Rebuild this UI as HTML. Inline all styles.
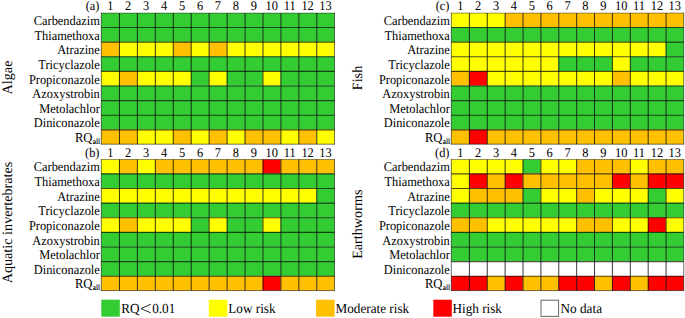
<!DOCTYPE html>
<html><head><meta charset="utf-8"><style>
html,body{margin:0;padding:0;background:#fff;width:685px;height:318px;overflow:hidden}
svg{display:block}
.t{text-rendering:geometricPrecision;font-family:"Liberation Serif",serif;font-size:12.4px;fill:#000}
.leg{font-size:13.2px}
.sub{font-size:7.4px;stroke:#000;stroke-width:0.15px}
.rq{font-size:12.7px}
.side{text-rendering:geometricPrecision;font-family:"Liberation Serif",serif;font-size:14.2px;fill:#000}
line.in{stroke:#000;stroke-width:1;stroke-opacity:0.78}
line.inh{stroke:#000;stroke-width:1.15;stroke-opacity:0.68}
.ob{stroke:#000;stroke-width:1;stroke-opacity:0.55}
.obt{stroke:#000;stroke-width:1;stroke-opacity:0.4}
</style></head><body>
<svg width="685" height="318" viewBox="0 0 685 318">
<rect x="101.30" y="13.00" width="17.94" height="14.22" fill="#33CC33"/>
<rect x="119.24" y="13.00" width="17.94" height="14.22" fill="#33CC33"/>
<rect x="137.18" y="13.00" width="17.94" height="14.22" fill="#33CC33"/>
<rect x="155.12" y="13.00" width="17.94" height="14.22" fill="#33CC33"/>
<rect x="173.06" y="13.00" width="17.94" height="14.22" fill="#33CC33"/>
<rect x="191.00" y="13.00" width="17.94" height="14.22" fill="#33CC33"/>
<rect x="208.94" y="13.00" width="17.94" height="14.22" fill="#33CC33"/>
<rect x="226.88" y="13.00" width="17.94" height="14.22" fill="#33CC33"/>
<rect x="244.82" y="13.00" width="17.94" height="14.22" fill="#33CC33"/>
<rect x="262.76" y="13.00" width="17.94" height="14.22" fill="#33CC33"/>
<rect x="280.70" y="13.00" width="17.94" height="14.22" fill="#33CC33"/>
<rect x="298.64" y="13.00" width="17.94" height="14.22" fill="#33CC33"/>
<rect x="316.58" y="13.00" width="17.94" height="14.22" fill="#33CC33"/>
<rect x="101.30" y="27.22" width="17.94" height="14.62" fill="#33CC33"/>
<rect x="119.24" y="27.22" width="17.94" height="14.62" fill="#33CC33"/>
<rect x="137.18" y="27.22" width="17.94" height="14.62" fill="#33CC33"/>
<rect x="155.12" y="27.22" width="17.94" height="14.62" fill="#33CC33"/>
<rect x="173.06" y="27.22" width="17.94" height="14.62" fill="#33CC33"/>
<rect x="191.00" y="27.22" width="17.94" height="14.62" fill="#33CC33"/>
<rect x="208.94" y="27.22" width="17.94" height="14.62" fill="#33CC33"/>
<rect x="226.88" y="27.22" width="17.94" height="14.62" fill="#33CC33"/>
<rect x="244.82" y="27.22" width="17.94" height="14.62" fill="#33CC33"/>
<rect x="262.76" y="27.22" width="17.94" height="14.62" fill="#33CC33"/>
<rect x="280.70" y="27.22" width="17.94" height="14.62" fill="#33CC33"/>
<rect x="298.64" y="27.22" width="17.94" height="14.62" fill="#33CC33"/>
<rect x="316.58" y="27.22" width="17.94" height="14.62" fill="#33CC33"/>
<rect x="101.30" y="41.84" width="17.94" height="14.62" fill="#FFC000"/>
<rect x="119.24" y="41.84" width="17.94" height="14.62" fill="#FFFF00"/>
<rect x="137.18" y="41.84" width="17.94" height="14.62" fill="#FFFF00"/>
<rect x="155.12" y="41.84" width="17.94" height="14.62" fill="#FFFF00"/>
<rect x="173.06" y="41.84" width="17.94" height="14.62" fill="#FFC000"/>
<rect x="191.00" y="41.84" width="17.94" height="14.62" fill="#FFFF00"/>
<rect x="208.94" y="41.84" width="17.94" height="14.62" fill="#FFC000"/>
<rect x="226.88" y="41.84" width="17.94" height="14.62" fill="#FFFF00"/>
<rect x="244.82" y="41.84" width="17.94" height="14.62" fill="#FFFF00"/>
<rect x="262.76" y="41.84" width="17.94" height="14.62" fill="#FFFF00"/>
<rect x="280.70" y="41.84" width="17.94" height="14.62" fill="#FFFF00"/>
<rect x="298.64" y="41.84" width="17.94" height="14.62" fill="#FFFF00"/>
<rect x="316.58" y="41.84" width="17.94" height="14.62" fill="#FFFF00"/>
<rect x="101.30" y="56.46" width="17.94" height="14.62" fill="#33CC33"/>
<rect x="119.24" y="56.46" width="17.94" height="14.62" fill="#33CC33"/>
<rect x="137.18" y="56.46" width="17.94" height="14.62" fill="#33CC33"/>
<rect x="155.12" y="56.46" width="17.94" height="14.62" fill="#33CC33"/>
<rect x="173.06" y="56.46" width="17.94" height="14.62" fill="#33CC33"/>
<rect x="191.00" y="56.46" width="17.94" height="14.62" fill="#33CC33"/>
<rect x="208.94" y="56.46" width="17.94" height="14.62" fill="#33CC33"/>
<rect x="226.88" y="56.46" width="17.94" height="14.62" fill="#33CC33"/>
<rect x="244.82" y="56.46" width="17.94" height="14.62" fill="#33CC33"/>
<rect x="262.76" y="56.46" width="17.94" height="14.62" fill="#33CC33"/>
<rect x="280.70" y="56.46" width="17.94" height="14.62" fill="#33CC33"/>
<rect x="298.64" y="56.46" width="17.94" height="14.62" fill="#33CC33"/>
<rect x="316.58" y="56.46" width="17.94" height="14.62" fill="#33CC33"/>
<rect x="101.30" y="71.08" width="17.94" height="14.62" fill="#FFFF00"/>
<rect x="119.24" y="71.08" width="17.94" height="14.62" fill="#FFC000"/>
<rect x="137.18" y="71.08" width="17.94" height="14.62" fill="#FFFF00"/>
<rect x="155.12" y="71.08" width="17.94" height="14.62" fill="#FFFF00"/>
<rect x="173.06" y="71.08" width="17.94" height="14.62" fill="#FFFF00"/>
<rect x="191.00" y="71.08" width="17.94" height="14.62" fill="#33CC33"/>
<rect x="208.94" y="71.08" width="17.94" height="14.62" fill="#FFFF00"/>
<rect x="226.88" y="71.08" width="17.94" height="14.62" fill="#33CC33"/>
<rect x="244.82" y="71.08" width="17.94" height="14.62" fill="#33CC33"/>
<rect x="262.76" y="71.08" width="17.94" height="14.62" fill="#FFFF00"/>
<rect x="280.70" y="71.08" width="17.94" height="14.62" fill="#33CC33"/>
<rect x="298.64" y="71.08" width="17.94" height="14.62" fill="#33CC33"/>
<rect x="316.58" y="71.08" width="17.94" height="14.62" fill="#33CC33"/>
<rect x="101.30" y="85.70" width="17.94" height="14.62" fill="#33CC33"/>
<rect x="119.24" y="85.70" width="17.94" height="14.62" fill="#33CC33"/>
<rect x="137.18" y="85.70" width="17.94" height="14.62" fill="#33CC33"/>
<rect x="155.12" y="85.70" width="17.94" height="14.62" fill="#33CC33"/>
<rect x="173.06" y="85.70" width="17.94" height="14.62" fill="#33CC33"/>
<rect x="191.00" y="85.70" width="17.94" height="14.62" fill="#33CC33"/>
<rect x="208.94" y="85.70" width="17.94" height="14.62" fill="#33CC33"/>
<rect x="226.88" y="85.70" width="17.94" height="14.62" fill="#33CC33"/>
<rect x="244.82" y="85.70" width="17.94" height="14.62" fill="#33CC33"/>
<rect x="262.76" y="85.70" width="17.94" height="14.62" fill="#33CC33"/>
<rect x="280.70" y="85.70" width="17.94" height="14.62" fill="#33CC33"/>
<rect x="298.64" y="85.70" width="17.94" height="14.62" fill="#33CC33"/>
<rect x="316.58" y="85.70" width="17.94" height="14.62" fill="#33CC33"/>
<rect x="101.30" y="100.32" width="17.94" height="14.62" fill="#33CC33"/>
<rect x="119.24" y="100.32" width="17.94" height="14.62" fill="#33CC33"/>
<rect x="137.18" y="100.32" width="17.94" height="14.62" fill="#33CC33"/>
<rect x="155.12" y="100.32" width="17.94" height="14.62" fill="#33CC33"/>
<rect x="173.06" y="100.32" width="17.94" height="14.62" fill="#33CC33"/>
<rect x="191.00" y="100.32" width="17.94" height="14.62" fill="#33CC33"/>
<rect x="208.94" y="100.32" width="17.94" height="14.62" fill="#33CC33"/>
<rect x="226.88" y="100.32" width="17.94" height="14.62" fill="#33CC33"/>
<rect x="244.82" y="100.32" width="17.94" height="14.62" fill="#33CC33"/>
<rect x="262.76" y="100.32" width="17.94" height="14.62" fill="#33CC33"/>
<rect x="280.70" y="100.32" width="17.94" height="14.62" fill="#33CC33"/>
<rect x="298.64" y="100.32" width="17.94" height="14.62" fill="#33CC33"/>
<rect x="316.58" y="100.32" width="17.94" height="14.62" fill="#33CC33"/>
<rect x="101.30" y="114.94" width="17.94" height="14.62" fill="#33CC33"/>
<rect x="119.24" y="114.94" width="17.94" height="14.62" fill="#33CC33"/>
<rect x="137.18" y="114.94" width="17.94" height="14.62" fill="#33CC33"/>
<rect x="155.12" y="114.94" width="17.94" height="14.62" fill="#33CC33"/>
<rect x="173.06" y="114.94" width="17.94" height="14.62" fill="#33CC33"/>
<rect x="191.00" y="114.94" width="17.94" height="14.62" fill="#33CC33"/>
<rect x="208.94" y="114.94" width="17.94" height="14.62" fill="#33CC33"/>
<rect x="226.88" y="114.94" width="17.94" height="14.62" fill="#33CC33"/>
<rect x="244.82" y="114.94" width="17.94" height="14.62" fill="#33CC33"/>
<rect x="262.76" y="114.94" width="17.94" height="14.62" fill="#33CC33"/>
<rect x="280.70" y="114.94" width="17.94" height="14.62" fill="#33CC33"/>
<rect x="298.64" y="114.94" width="17.94" height="14.62" fill="#33CC33"/>
<rect x="316.58" y="114.94" width="17.94" height="14.62" fill="#33CC33"/>
<rect x="101.30" y="129.56" width="17.94" height="14.62" fill="#FFC000"/>
<rect x="119.24" y="129.56" width="17.94" height="14.62" fill="#FFC000"/>
<rect x="137.18" y="129.56" width="17.94" height="14.62" fill="#FFFF00"/>
<rect x="155.12" y="129.56" width="17.94" height="14.62" fill="#FFFF00"/>
<rect x="173.06" y="129.56" width="17.94" height="14.62" fill="#FFC000"/>
<rect x="191.00" y="129.56" width="17.94" height="14.62" fill="#FFFF00"/>
<rect x="208.94" y="129.56" width="17.94" height="14.62" fill="#FFC000"/>
<rect x="226.88" y="129.56" width="17.94" height="14.62" fill="#FFFF00"/>
<rect x="244.82" y="129.56" width="17.94" height="14.62" fill="#FFC000"/>
<rect x="262.76" y="129.56" width="17.94" height="14.62" fill="#FFC000"/>
<rect x="280.70" y="129.56" width="17.94" height="14.62" fill="#FFFF00"/>
<rect x="298.64" y="129.56" width="17.94" height="14.62" fill="#FFC000"/>
<rect x="316.58" y="129.56" width="17.94" height="14.62" fill="#FFFF00"/>
<line class="in" x1="119.44" y1="13.00" x2="119.44" y2="144.18"/>
<line class="in" x1="137.38" y1="13.00" x2="137.38" y2="144.18"/>
<line class="in" x1="155.32" y1="13.00" x2="155.32" y2="144.18"/>
<line class="in" x1="173.26" y1="13.00" x2="173.26" y2="144.18"/>
<line class="in" x1="191.20" y1="13.00" x2="191.20" y2="144.18"/>
<line class="in" x1="209.14" y1="13.00" x2="209.14" y2="144.18"/>
<line class="in" x1="227.08" y1="13.00" x2="227.08" y2="144.18"/>
<line class="in" x1="245.02" y1="13.00" x2="245.02" y2="144.18"/>
<line class="in" x1="262.96" y1="13.00" x2="262.96" y2="144.18"/>
<line class="in" x1="280.90" y1="13.00" x2="280.90" y2="144.18"/>
<line class="in" x1="298.84" y1="13.00" x2="298.84" y2="144.18"/>
<line class="in" x1="316.78" y1="13.00" x2="316.78" y2="144.18"/>
<line class="inh" x1="101.30" y1="27.52" x2="334.52" y2="27.52"/>
<line class="inh" x1="101.30" y1="42.14" x2="334.52" y2="42.14"/>
<line class="inh" x1="101.30" y1="56.76" x2="334.52" y2="56.76"/>
<line class="inh" x1="101.30" y1="71.38" x2="334.52" y2="71.38"/>
<line class="inh" x1="101.30" y1="86.00" x2="334.52" y2="86.00"/>
<line class="inh" x1="101.30" y1="100.62" x2="334.52" y2="100.62"/>
<line class="inh" x1="101.30" y1="115.24" x2="334.52" y2="115.24"/>
<line class="inh" x1="101.30" y1="129.86" x2="334.52" y2="129.86"/>
<line class="ob" x1="101.30" y1="12.60" x2="101.30" y2="144.18"/>
<line class="ob" x1="334.52" y1="12.60" x2="334.52" y2="144.68"/>
<line class="ob" x1="100.80" y1="144.18" x2="334.52" y2="144.18"/>
<line class="obt" x1="101.30" y1="13.10" x2="334.52" y2="13.10"/>
<text class="t" transform="translate(110.27,9.70) scale(1,1.07)" text-anchor="middle">1</text>
<text class="t" transform="translate(128.21,9.70) scale(1,1.07)" text-anchor="middle">2</text>
<text class="t" transform="translate(146.15,9.70) scale(1,1.07)" text-anchor="middle">3</text>
<text class="t" transform="translate(164.09,9.70) scale(1,1.07)" text-anchor="middle">4</text>
<text class="t" transform="translate(182.03,9.70) scale(1,1.07)" text-anchor="middle">5</text>
<text class="t" transform="translate(199.97,9.70) scale(1,1.07)" text-anchor="middle">6</text>
<text class="t" transform="translate(217.91,9.70) scale(1,1.07)" text-anchor="middle">7</text>
<text class="t" transform="translate(235.85,9.70) scale(1,1.07)" text-anchor="middle">8</text>
<text class="t" transform="translate(253.79,9.70) scale(1,1.07)" text-anchor="middle">9</text>
<text class="t" transform="translate(271.73,9.70) scale(1,1.07)" text-anchor="middle">10</text>
<text class="t" transform="translate(289.67,9.70) scale(1,1.07)" text-anchor="middle">11</text>
<text class="t" transform="translate(307.61,9.70) scale(1,1.07)" text-anchor="middle">12</text>
<text class="t" transform="translate(325.55,9.70) scale(1,1.07)" text-anchor="middle">13</text>
<text class="t" transform="translate(99.50,9.70) scale(1,1.07)" text-anchor="end">(a)</text>
<text class="t" transform="translate(99.80,25.02) scale(1,1.07)" text-anchor="end">Carbendazim</text>
<text class="t" transform="translate(99.80,39.64) scale(1,1.07)" text-anchor="end">Thiamethoxa</text>
<text class="t" transform="translate(99.80,54.26) scale(1,1.07)" text-anchor="end">Atrazine</text>
<text class="t" transform="translate(99.80,68.88) scale(1,1.07)" text-anchor="end">Tricyclazole</text>
<text class="t" transform="translate(99.80,83.50) scale(1,1.07)" text-anchor="end">Propiconazole</text>
<text class="t" transform="translate(99.80,98.12) scale(1,1.07)" text-anchor="end">Azoxystrobin</text>
<text class="t" transform="translate(99.80,112.74) scale(1,1.07)" text-anchor="end">Metolachlor</text>
<text class="t" transform="translate(99.80,127.36) scale(1,1.07)" text-anchor="end">Diniconazole</text>
<text class="t rq" transform="translate(74.90,141.78) scale(1,1.07)">RQ</text>
<text class="t sub" transform="translate(92.70,144.08) scale(1,1.07)">all</text>
<text class="side" transform="translate(11.60,77.50) rotate(-90)" text-anchor="middle">Algae</text>
<rect x="451.30" y="13.00" width="17.88" height="14.22" fill="#FFFF00"/>
<rect x="469.18" y="13.00" width="17.88" height="14.22" fill="#FFFF00"/>
<rect x="487.06" y="13.00" width="17.88" height="14.22" fill="#FFFF00"/>
<rect x="504.94" y="13.00" width="17.88" height="14.22" fill="#FFC000"/>
<rect x="522.82" y="13.00" width="17.88" height="14.22" fill="#FFC000"/>
<rect x="540.70" y="13.00" width="17.88" height="14.22" fill="#FFC000"/>
<rect x="558.58" y="13.00" width="17.88" height="14.22" fill="#FFC000"/>
<rect x="576.46" y="13.00" width="17.88" height="14.22" fill="#FFC000"/>
<rect x="594.34" y="13.00" width="17.88" height="14.22" fill="#FFC000"/>
<rect x="612.22" y="13.00" width="17.88" height="14.22" fill="#FFC000"/>
<rect x="630.10" y="13.00" width="17.88" height="14.22" fill="#FFC000"/>
<rect x="647.98" y="13.00" width="17.88" height="14.22" fill="#FFC000"/>
<rect x="665.86" y="13.00" width="17.88" height="14.22" fill="#FFC000"/>
<rect x="451.30" y="27.22" width="17.88" height="14.62" fill="#33CC33"/>
<rect x="469.18" y="27.22" width="17.88" height="14.62" fill="#33CC33"/>
<rect x="487.06" y="27.22" width="17.88" height="14.62" fill="#33CC33"/>
<rect x="504.94" y="27.22" width="17.88" height="14.62" fill="#33CC33"/>
<rect x="522.82" y="27.22" width="17.88" height="14.62" fill="#33CC33"/>
<rect x="540.70" y="27.22" width="17.88" height="14.62" fill="#33CC33"/>
<rect x="558.58" y="27.22" width="17.88" height="14.62" fill="#33CC33"/>
<rect x="576.46" y="27.22" width="17.88" height="14.62" fill="#33CC33"/>
<rect x="594.34" y="27.22" width="17.88" height="14.62" fill="#33CC33"/>
<rect x="612.22" y="27.22" width="17.88" height="14.62" fill="#33CC33"/>
<rect x="630.10" y="27.22" width="17.88" height="14.62" fill="#33CC33"/>
<rect x="647.98" y="27.22" width="17.88" height="14.62" fill="#33CC33"/>
<rect x="665.86" y="27.22" width="17.88" height="14.62" fill="#33CC33"/>
<rect x="451.30" y="41.84" width="17.88" height="14.62" fill="#FFFF00"/>
<rect x="469.18" y="41.84" width="17.88" height="14.62" fill="#FFFF00"/>
<rect x="487.06" y="41.84" width="17.88" height="14.62" fill="#FFFF00"/>
<rect x="504.94" y="41.84" width="17.88" height="14.62" fill="#FFFF00"/>
<rect x="522.82" y="41.84" width="17.88" height="14.62" fill="#FFFF00"/>
<rect x="540.70" y="41.84" width="17.88" height="14.62" fill="#FFFF00"/>
<rect x="558.58" y="41.84" width="17.88" height="14.62" fill="#FFFF00"/>
<rect x="576.46" y="41.84" width="17.88" height="14.62" fill="#FFFF00"/>
<rect x="594.34" y="41.84" width="17.88" height="14.62" fill="#FFFF00"/>
<rect x="612.22" y="41.84" width="17.88" height="14.62" fill="#FFFF00"/>
<rect x="630.10" y="41.84" width="17.88" height="14.62" fill="#FFFF00"/>
<rect x="647.98" y="41.84" width="17.88" height="14.62" fill="#FFFF00"/>
<rect x="665.86" y="41.84" width="17.88" height="14.62" fill="#33CC33"/>
<rect x="451.30" y="56.46" width="17.88" height="14.62" fill="#FFFF00"/>
<rect x="469.18" y="56.46" width="17.88" height="14.62" fill="#FFFF00"/>
<rect x="487.06" y="56.46" width="17.88" height="14.62" fill="#FFFF00"/>
<rect x="504.94" y="56.46" width="17.88" height="14.62" fill="#FFFF00"/>
<rect x="522.82" y="56.46" width="17.88" height="14.62" fill="#FFFF00"/>
<rect x="540.70" y="56.46" width="17.88" height="14.62" fill="#FFFF00"/>
<rect x="558.58" y="56.46" width="17.88" height="14.62" fill="#33CC33"/>
<rect x="576.46" y="56.46" width="17.88" height="14.62" fill="#33CC33"/>
<rect x="594.34" y="56.46" width="17.88" height="14.62" fill="#33CC33"/>
<rect x="612.22" y="56.46" width="17.88" height="14.62" fill="#FFFF00"/>
<rect x="630.10" y="56.46" width="17.88" height="14.62" fill="#33CC33"/>
<rect x="647.98" y="56.46" width="17.88" height="14.62" fill="#33CC33"/>
<rect x="665.86" y="56.46" width="17.88" height="14.62" fill="#33CC33"/>
<rect x="451.30" y="71.08" width="17.88" height="14.62" fill="#FFC000"/>
<rect x="469.18" y="71.08" width="17.88" height="14.62" fill="#FF0000"/>
<rect x="487.06" y="71.08" width="17.88" height="14.62" fill="#FFFF00"/>
<rect x="504.94" y="71.08" width="17.88" height="14.62" fill="#FFFF00"/>
<rect x="522.82" y="71.08" width="17.88" height="14.62" fill="#FFFF00"/>
<rect x="540.70" y="71.08" width="17.88" height="14.62" fill="#FFFF00"/>
<rect x="558.58" y="71.08" width="17.88" height="14.62" fill="#FFFF00"/>
<rect x="576.46" y="71.08" width="17.88" height="14.62" fill="#FFFF00"/>
<rect x="594.34" y="71.08" width="17.88" height="14.62" fill="#FFFF00"/>
<rect x="612.22" y="71.08" width="17.88" height="14.62" fill="#FFC000"/>
<rect x="630.10" y="71.08" width="17.88" height="14.62" fill="#FFFF00"/>
<rect x="647.98" y="71.08" width="17.88" height="14.62" fill="#FFFF00"/>
<rect x="665.86" y="71.08" width="17.88" height="14.62" fill="#FFFF00"/>
<rect x="451.30" y="85.70" width="17.88" height="14.62" fill="#33CC33"/>
<rect x="469.18" y="85.70" width="17.88" height="14.62" fill="#33CC33"/>
<rect x="487.06" y="85.70" width="17.88" height="14.62" fill="#33CC33"/>
<rect x="504.94" y="85.70" width="17.88" height="14.62" fill="#33CC33"/>
<rect x="522.82" y="85.70" width="17.88" height="14.62" fill="#33CC33"/>
<rect x="540.70" y="85.70" width="17.88" height="14.62" fill="#33CC33"/>
<rect x="558.58" y="85.70" width="17.88" height="14.62" fill="#33CC33"/>
<rect x="576.46" y="85.70" width="17.88" height="14.62" fill="#33CC33"/>
<rect x="594.34" y="85.70" width="17.88" height="14.62" fill="#33CC33"/>
<rect x="612.22" y="85.70" width="17.88" height="14.62" fill="#33CC33"/>
<rect x="630.10" y="85.70" width="17.88" height="14.62" fill="#33CC33"/>
<rect x="647.98" y="85.70" width="17.88" height="14.62" fill="#33CC33"/>
<rect x="665.86" y="85.70" width="17.88" height="14.62" fill="#33CC33"/>
<rect x="451.30" y="100.32" width="17.88" height="14.62" fill="#33CC33"/>
<rect x="469.18" y="100.32" width="17.88" height="14.62" fill="#33CC33"/>
<rect x="487.06" y="100.32" width="17.88" height="14.62" fill="#33CC33"/>
<rect x="504.94" y="100.32" width="17.88" height="14.62" fill="#33CC33"/>
<rect x="522.82" y="100.32" width="17.88" height="14.62" fill="#33CC33"/>
<rect x="540.70" y="100.32" width="17.88" height="14.62" fill="#33CC33"/>
<rect x="558.58" y="100.32" width="17.88" height="14.62" fill="#33CC33"/>
<rect x="576.46" y="100.32" width="17.88" height="14.62" fill="#33CC33"/>
<rect x="594.34" y="100.32" width="17.88" height="14.62" fill="#33CC33"/>
<rect x="612.22" y="100.32" width="17.88" height="14.62" fill="#33CC33"/>
<rect x="630.10" y="100.32" width="17.88" height="14.62" fill="#33CC33"/>
<rect x="647.98" y="100.32" width="17.88" height="14.62" fill="#33CC33"/>
<rect x="665.86" y="100.32" width="17.88" height="14.62" fill="#33CC33"/>
<rect x="451.30" y="114.94" width="17.88" height="14.62" fill="#33CC33"/>
<rect x="469.18" y="114.94" width="17.88" height="14.62" fill="#33CC33"/>
<rect x="487.06" y="114.94" width="17.88" height="14.62" fill="#33CC33"/>
<rect x="504.94" y="114.94" width="17.88" height="14.62" fill="#33CC33"/>
<rect x="522.82" y="114.94" width="17.88" height="14.62" fill="#33CC33"/>
<rect x="540.70" y="114.94" width="17.88" height="14.62" fill="#33CC33"/>
<rect x="558.58" y="114.94" width="17.88" height="14.62" fill="#33CC33"/>
<rect x="576.46" y="114.94" width="17.88" height="14.62" fill="#33CC33"/>
<rect x="594.34" y="114.94" width="17.88" height="14.62" fill="#33CC33"/>
<rect x="612.22" y="114.94" width="17.88" height="14.62" fill="#33CC33"/>
<rect x="630.10" y="114.94" width="17.88" height="14.62" fill="#33CC33"/>
<rect x="647.98" y="114.94" width="17.88" height="14.62" fill="#33CC33"/>
<rect x="665.86" y="114.94" width="17.88" height="14.62" fill="#33CC33"/>
<rect x="451.30" y="129.56" width="17.88" height="14.62" fill="#FFC000"/>
<rect x="469.18" y="129.56" width="17.88" height="14.62" fill="#FF0000"/>
<rect x="487.06" y="129.56" width="17.88" height="14.62" fill="#FFC000"/>
<rect x="504.94" y="129.56" width="17.88" height="14.62" fill="#FFC000"/>
<rect x="522.82" y="129.56" width="17.88" height="14.62" fill="#FFC000"/>
<rect x="540.70" y="129.56" width="17.88" height="14.62" fill="#FFC000"/>
<rect x="558.58" y="129.56" width="17.88" height="14.62" fill="#FFC000"/>
<rect x="576.46" y="129.56" width="17.88" height="14.62" fill="#FFC000"/>
<rect x="594.34" y="129.56" width="17.88" height="14.62" fill="#FFC000"/>
<rect x="612.22" y="129.56" width="17.88" height="14.62" fill="#FFC000"/>
<rect x="630.10" y="129.56" width="17.88" height="14.62" fill="#FFC000"/>
<rect x="647.98" y="129.56" width="17.88" height="14.62" fill="#FFC000"/>
<rect x="665.86" y="129.56" width="17.88" height="14.62" fill="#FFC000"/>
<line class="in" x1="469.38" y1="13.00" x2="469.38" y2="144.18"/>
<line class="in" x1="487.26" y1="13.00" x2="487.26" y2="144.18"/>
<line class="in" x1="505.14" y1="13.00" x2="505.14" y2="144.18"/>
<line class="in" x1="523.02" y1="13.00" x2="523.02" y2="144.18"/>
<line class="in" x1="540.90" y1="13.00" x2="540.90" y2="144.18"/>
<line class="in" x1="558.78" y1="13.00" x2="558.78" y2="144.18"/>
<line class="in" x1="576.66" y1="13.00" x2="576.66" y2="144.18"/>
<line class="in" x1="594.54" y1="13.00" x2="594.54" y2="144.18"/>
<line class="in" x1="612.42" y1="13.00" x2="612.42" y2="144.18"/>
<line class="in" x1="630.30" y1="13.00" x2="630.30" y2="144.18"/>
<line class="in" x1="648.18" y1="13.00" x2="648.18" y2="144.18"/>
<line class="in" x1="666.06" y1="13.00" x2="666.06" y2="144.18"/>
<line class="inh" x1="451.30" y1="27.52" x2="683.74" y2="27.52"/>
<line class="inh" x1="451.30" y1="42.14" x2="683.74" y2="42.14"/>
<line class="inh" x1="451.30" y1="56.76" x2="683.74" y2="56.76"/>
<line class="inh" x1="451.30" y1="71.38" x2="683.74" y2="71.38"/>
<line class="inh" x1="451.30" y1="86.00" x2="683.74" y2="86.00"/>
<line class="inh" x1="451.30" y1="100.62" x2="683.74" y2="100.62"/>
<line class="inh" x1="451.30" y1="115.24" x2="683.74" y2="115.24"/>
<line class="inh" x1="451.30" y1="129.86" x2="683.74" y2="129.86"/>
<line class="ob" x1="451.30" y1="12.60" x2="451.30" y2="144.18"/>
<line class="ob" x1="683.74" y1="12.60" x2="683.74" y2="144.68"/>
<line class="ob" x1="450.80" y1="144.18" x2="683.74" y2="144.18"/>
<line class="obt" x1="451.30" y1="13.10" x2="683.74" y2="13.10"/>
<text class="t" transform="translate(460.24,9.70) scale(1,1.07)" text-anchor="middle">1</text>
<text class="t" transform="translate(478.12,9.70) scale(1,1.07)" text-anchor="middle">2</text>
<text class="t" transform="translate(496.00,9.70) scale(1,1.07)" text-anchor="middle">3</text>
<text class="t" transform="translate(513.88,9.70) scale(1,1.07)" text-anchor="middle">4</text>
<text class="t" transform="translate(531.76,9.70) scale(1,1.07)" text-anchor="middle">5</text>
<text class="t" transform="translate(549.64,9.70) scale(1,1.07)" text-anchor="middle">6</text>
<text class="t" transform="translate(567.52,9.70) scale(1,1.07)" text-anchor="middle">7</text>
<text class="t" transform="translate(585.40,9.70) scale(1,1.07)" text-anchor="middle">8</text>
<text class="t" transform="translate(603.28,9.70) scale(1,1.07)" text-anchor="middle">9</text>
<text class="t" transform="translate(621.16,9.70) scale(1,1.07)" text-anchor="middle">10</text>
<text class="t" transform="translate(639.04,9.70) scale(1,1.07)" text-anchor="middle">11</text>
<text class="t" transform="translate(656.92,9.70) scale(1,1.07)" text-anchor="middle">12</text>
<text class="t" transform="translate(674.80,9.70) scale(1,1.07)" text-anchor="middle">13</text>
<text class="t" transform="translate(449.50,9.70) scale(1,1.07)" text-anchor="end">(c)</text>
<text class="t" transform="translate(449.80,25.02) scale(1,1.07)" text-anchor="end">Carbendazim</text>
<text class="t" transform="translate(449.80,39.64) scale(1,1.07)" text-anchor="end">Thiamethoxa</text>
<text class="t" transform="translate(449.80,54.26) scale(1,1.07)" text-anchor="end">Atrazine</text>
<text class="t" transform="translate(449.80,68.88) scale(1,1.07)" text-anchor="end">Tricyclazole</text>
<text class="t" transform="translate(449.80,83.50) scale(1,1.07)" text-anchor="end">Propiconazole</text>
<text class="t" transform="translate(449.80,98.12) scale(1,1.07)" text-anchor="end">Azoxystrobin</text>
<text class="t" transform="translate(449.80,112.74) scale(1,1.07)" text-anchor="end">Metolachlor</text>
<text class="t" transform="translate(449.80,127.36) scale(1,1.07)" text-anchor="end">Diniconazole</text>
<text class="t rq" transform="translate(424.90,141.78) scale(1,1.07)">RQ</text>
<text class="t sub" transform="translate(442.70,144.08) scale(1,1.07)">all</text>
<text class="side" transform="translate(361.50,78.00) rotate(-90)" text-anchor="middle">Fish</text>
<rect x="101.30" y="159.40" width="17.94" height="14.22" fill="#FFFF00"/>
<rect x="119.24" y="159.40" width="17.94" height="14.22" fill="#FFC000"/>
<rect x="137.18" y="159.40" width="17.94" height="14.22" fill="#FFFF00"/>
<rect x="155.12" y="159.40" width="17.94" height="14.22" fill="#FFC000"/>
<rect x="173.06" y="159.40" width="17.94" height="14.22" fill="#FFC000"/>
<rect x="191.00" y="159.40" width="17.94" height="14.22" fill="#FFC000"/>
<rect x="208.94" y="159.40" width="17.94" height="14.22" fill="#FFC000"/>
<rect x="226.88" y="159.40" width="17.94" height="14.22" fill="#FFC000"/>
<rect x="244.82" y="159.40" width="17.94" height="14.22" fill="#FFC000"/>
<rect x="262.76" y="159.40" width="17.94" height="14.22" fill="#FF0000"/>
<rect x="280.70" y="159.40" width="17.94" height="14.22" fill="#FFC000"/>
<rect x="298.64" y="159.40" width="17.94" height="14.22" fill="#FFC000"/>
<rect x="316.58" y="159.40" width="17.94" height="14.22" fill="#FFC000"/>
<rect x="101.30" y="173.62" width="17.94" height="14.62" fill="#33CC33"/>
<rect x="119.24" y="173.62" width="17.94" height="14.62" fill="#33CC33"/>
<rect x="137.18" y="173.62" width="17.94" height="14.62" fill="#33CC33"/>
<rect x="155.12" y="173.62" width="17.94" height="14.62" fill="#33CC33"/>
<rect x="173.06" y="173.62" width="17.94" height="14.62" fill="#33CC33"/>
<rect x="191.00" y="173.62" width="17.94" height="14.62" fill="#33CC33"/>
<rect x="208.94" y="173.62" width="17.94" height="14.62" fill="#33CC33"/>
<rect x="226.88" y="173.62" width="17.94" height="14.62" fill="#33CC33"/>
<rect x="244.82" y="173.62" width="17.94" height="14.62" fill="#33CC33"/>
<rect x="262.76" y="173.62" width="17.94" height="14.62" fill="#33CC33"/>
<rect x="280.70" y="173.62" width="17.94" height="14.62" fill="#33CC33"/>
<rect x="298.64" y="173.62" width="17.94" height="14.62" fill="#33CC33"/>
<rect x="316.58" y="173.62" width="17.94" height="14.62" fill="#33CC33"/>
<rect x="101.30" y="188.24" width="17.94" height="14.62" fill="#FFFF00"/>
<rect x="119.24" y="188.24" width="17.94" height="14.62" fill="#FFFF00"/>
<rect x="137.18" y="188.24" width="17.94" height="14.62" fill="#FFFF00"/>
<rect x="155.12" y="188.24" width="17.94" height="14.62" fill="#FFFF00"/>
<rect x="173.06" y="188.24" width="17.94" height="14.62" fill="#FFFF00"/>
<rect x="191.00" y="188.24" width="17.94" height="14.62" fill="#FFFF00"/>
<rect x="208.94" y="188.24" width="17.94" height="14.62" fill="#FFFF00"/>
<rect x="226.88" y="188.24" width="17.94" height="14.62" fill="#FFFF00"/>
<rect x="244.82" y="188.24" width="17.94" height="14.62" fill="#FFFF00"/>
<rect x="262.76" y="188.24" width="17.94" height="14.62" fill="#FFFF00"/>
<rect x="280.70" y="188.24" width="17.94" height="14.62" fill="#FFFF00"/>
<rect x="298.64" y="188.24" width="17.94" height="14.62" fill="#FFFF00"/>
<rect x="316.58" y="188.24" width="17.94" height="14.62" fill="#33CC33"/>
<rect x="101.30" y="202.86" width="17.94" height="14.62" fill="#33CC33"/>
<rect x="119.24" y="202.86" width="17.94" height="14.62" fill="#33CC33"/>
<rect x="137.18" y="202.86" width="17.94" height="14.62" fill="#33CC33"/>
<rect x="155.12" y="202.86" width="17.94" height="14.62" fill="#33CC33"/>
<rect x="173.06" y="202.86" width="17.94" height="14.62" fill="#33CC33"/>
<rect x="191.00" y="202.86" width="17.94" height="14.62" fill="#33CC33"/>
<rect x="208.94" y="202.86" width="17.94" height="14.62" fill="#33CC33"/>
<rect x="226.88" y="202.86" width="17.94" height="14.62" fill="#33CC33"/>
<rect x="244.82" y="202.86" width="17.94" height="14.62" fill="#33CC33"/>
<rect x="262.76" y="202.86" width="17.94" height="14.62" fill="#33CC33"/>
<rect x="280.70" y="202.86" width="17.94" height="14.62" fill="#33CC33"/>
<rect x="298.64" y="202.86" width="17.94" height="14.62" fill="#33CC33"/>
<rect x="316.58" y="202.86" width="17.94" height="14.62" fill="#33CC33"/>
<rect x="101.30" y="217.48" width="17.94" height="14.62" fill="#FFFF00"/>
<rect x="119.24" y="217.48" width="17.94" height="14.62" fill="#FFC000"/>
<rect x="137.18" y="217.48" width="17.94" height="14.62" fill="#FFFF00"/>
<rect x="155.12" y="217.48" width="17.94" height="14.62" fill="#FFFF00"/>
<rect x="173.06" y="217.48" width="17.94" height="14.62" fill="#FFFF00"/>
<rect x="191.00" y="217.48" width="17.94" height="14.62" fill="#33CC33"/>
<rect x="208.94" y="217.48" width="17.94" height="14.62" fill="#FFFF00"/>
<rect x="226.88" y="217.48" width="17.94" height="14.62" fill="#33CC33"/>
<rect x="244.82" y="217.48" width="17.94" height="14.62" fill="#33CC33"/>
<rect x="262.76" y="217.48" width="17.94" height="14.62" fill="#FFFF00"/>
<rect x="280.70" y="217.48" width="17.94" height="14.62" fill="#33CC33"/>
<rect x="298.64" y="217.48" width="17.94" height="14.62" fill="#33CC33"/>
<rect x="316.58" y="217.48" width="17.94" height="14.62" fill="#33CC33"/>
<rect x="101.30" y="232.10" width="17.94" height="14.62" fill="#33CC33"/>
<rect x="119.24" y="232.10" width="17.94" height="14.62" fill="#33CC33"/>
<rect x="137.18" y="232.10" width="17.94" height="14.62" fill="#33CC33"/>
<rect x="155.12" y="232.10" width="17.94" height="14.62" fill="#33CC33"/>
<rect x="173.06" y="232.10" width="17.94" height="14.62" fill="#33CC33"/>
<rect x="191.00" y="232.10" width="17.94" height="14.62" fill="#33CC33"/>
<rect x="208.94" y="232.10" width="17.94" height="14.62" fill="#33CC33"/>
<rect x="226.88" y="232.10" width="17.94" height="14.62" fill="#33CC33"/>
<rect x="244.82" y="232.10" width="17.94" height="14.62" fill="#33CC33"/>
<rect x="262.76" y="232.10" width="17.94" height="14.62" fill="#33CC33"/>
<rect x="280.70" y="232.10" width="17.94" height="14.62" fill="#33CC33"/>
<rect x="298.64" y="232.10" width="17.94" height="14.62" fill="#33CC33"/>
<rect x="316.58" y="232.10" width="17.94" height="14.62" fill="#33CC33"/>
<rect x="101.30" y="246.72" width="17.94" height="14.62" fill="#33CC33"/>
<rect x="119.24" y="246.72" width="17.94" height="14.62" fill="#33CC33"/>
<rect x="137.18" y="246.72" width="17.94" height="14.62" fill="#33CC33"/>
<rect x="155.12" y="246.72" width="17.94" height="14.62" fill="#33CC33"/>
<rect x="173.06" y="246.72" width="17.94" height="14.62" fill="#33CC33"/>
<rect x="191.00" y="246.72" width="17.94" height="14.62" fill="#33CC33"/>
<rect x="208.94" y="246.72" width="17.94" height="14.62" fill="#33CC33"/>
<rect x="226.88" y="246.72" width="17.94" height="14.62" fill="#33CC33"/>
<rect x="244.82" y="246.72" width="17.94" height="14.62" fill="#33CC33"/>
<rect x="262.76" y="246.72" width="17.94" height="14.62" fill="#33CC33"/>
<rect x="280.70" y="246.72" width="17.94" height="14.62" fill="#33CC33"/>
<rect x="298.64" y="246.72" width="17.94" height="14.62" fill="#33CC33"/>
<rect x="316.58" y="246.72" width="17.94" height="14.62" fill="#33CC33"/>
<rect x="101.30" y="261.34" width="17.94" height="14.62" fill="#33CC33"/>
<rect x="119.24" y="261.34" width="17.94" height="14.62" fill="#33CC33"/>
<rect x="137.18" y="261.34" width="17.94" height="14.62" fill="#33CC33"/>
<rect x="155.12" y="261.34" width="17.94" height="14.62" fill="#33CC33"/>
<rect x="173.06" y="261.34" width="17.94" height="14.62" fill="#33CC33"/>
<rect x="191.00" y="261.34" width="17.94" height="14.62" fill="#33CC33"/>
<rect x="208.94" y="261.34" width="17.94" height="14.62" fill="#33CC33"/>
<rect x="226.88" y="261.34" width="17.94" height="14.62" fill="#33CC33"/>
<rect x="244.82" y="261.34" width="17.94" height="14.62" fill="#33CC33"/>
<rect x="262.76" y="261.34" width="17.94" height="14.62" fill="#33CC33"/>
<rect x="280.70" y="261.34" width="17.94" height="14.62" fill="#33CC33"/>
<rect x="298.64" y="261.34" width="17.94" height="14.62" fill="#33CC33"/>
<rect x="316.58" y="261.34" width="17.94" height="14.62" fill="#33CC33"/>
<rect x="101.30" y="275.96" width="17.94" height="14.62" fill="#FFC000"/>
<rect x="119.24" y="275.96" width="17.94" height="14.62" fill="#FFC000"/>
<rect x="137.18" y="275.96" width="17.94" height="14.62" fill="#FFC000"/>
<rect x="155.12" y="275.96" width="17.94" height="14.62" fill="#FFC000"/>
<rect x="173.06" y="275.96" width="17.94" height="14.62" fill="#FFC000"/>
<rect x="191.00" y="275.96" width="17.94" height="14.62" fill="#FFC000"/>
<rect x="208.94" y="275.96" width="17.94" height="14.62" fill="#FFC000"/>
<rect x="226.88" y="275.96" width="17.94" height="14.62" fill="#FFC000"/>
<rect x="244.82" y="275.96" width="17.94" height="14.62" fill="#FFC000"/>
<rect x="262.76" y="275.96" width="17.94" height="14.62" fill="#FF0000"/>
<rect x="280.70" y="275.96" width="17.94" height="14.62" fill="#FFC000"/>
<rect x="298.64" y="275.96" width="17.94" height="14.62" fill="#FFC000"/>
<rect x="316.58" y="275.96" width="17.94" height="14.62" fill="#FFC000"/>
<line class="in" x1="119.44" y1="159.40" x2="119.44" y2="290.58"/>
<line class="in" x1="137.38" y1="159.40" x2="137.38" y2="290.58"/>
<line class="in" x1="155.32" y1="159.40" x2="155.32" y2="290.58"/>
<line class="in" x1="173.26" y1="159.40" x2="173.26" y2="290.58"/>
<line class="in" x1="191.20" y1="159.40" x2="191.20" y2="290.58"/>
<line class="in" x1="209.14" y1="159.40" x2="209.14" y2="290.58"/>
<line class="in" x1="227.08" y1="159.40" x2="227.08" y2="290.58"/>
<line class="in" x1="245.02" y1="159.40" x2="245.02" y2="290.58"/>
<line class="in" x1="262.96" y1="159.40" x2="262.96" y2="290.58"/>
<line class="in" x1="280.90" y1="159.40" x2="280.90" y2="290.58"/>
<line class="in" x1="298.84" y1="159.40" x2="298.84" y2="290.58"/>
<line class="in" x1="316.78" y1="159.40" x2="316.78" y2="290.58"/>
<line class="inh" x1="101.30" y1="173.92" x2="334.52" y2="173.92"/>
<line class="inh" x1="101.30" y1="188.54" x2="334.52" y2="188.54"/>
<line class="inh" x1="101.30" y1="203.16" x2="334.52" y2="203.16"/>
<line class="inh" x1="101.30" y1="217.78" x2="334.52" y2="217.78"/>
<line class="inh" x1="101.30" y1="232.40" x2="334.52" y2="232.40"/>
<line class="inh" x1="101.30" y1="247.02" x2="334.52" y2="247.02"/>
<line class="inh" x1="101.30" y1="261.64" x2="334.52" y2="261.64"/>
<line class="inh" x1="101.30" y1="276.26" x2="334.52" y2="276.26"/>
<line class="ob" x1="101.30" y1="159.00" x2="101.30" y2="290.58"/>
<line class="ob" x1="334.52" y1="159.00" x2="334.52" y2="291.08"/>
<line class="ob" x1="100.80" y1="290.58" x2="334.52" y2="290.58"/>
<line class="obt" x1="101.30" y1="159.50" x2="334.52" y2="159.50"/>
<text class="t" transform="translate(110.27,156.60) scale(1,1.07)" text-anchor="middle">1</text>
<text class="t" transform="translate(128.21,156.60) scale(1,1.07)" text-anchor="middle">2</text>
<text class="t" transform="translate(146.15,156.60) scale(1,1.07)" text-anchor="middle">3</text>
<text class="t" transform="translate(164.09,156.60) scale(1,1.07)" text-anchor="middle">4</text>
<text class="t" transform="translate(182.03,156.60) scale(1,1.07)" text-anchor="middle">5</text>
<text class="t" transform="translate(199.97,156.60) scale(1,1.07)" text-anchor="middle">6</text>
<text class="t" transform="translate(217.91,156.60) scale(1,1.07)" text-anchor="middle">7</text>
<text class="t" transform="translate(235.85,156.60) scale(1,1.07)" text-anchor="middle">8</text>
<text class="t" transform="translate(253.79,156.60) scale(1,1.07)" text-anchor="middle">9</text>
<text class="t" transform="translate(271.73,156.60) scale(1,1.07)" text-anchor="middle">10</text>
<text class="t" transform="translate(289.67,156.60) scale(1,1.07)" text-anchor="middle">11</text>
<text class="t" transform="translate(307.61,156.60) scale(1,1.07)" text-anchor="middle">12</text>
<text class="t" transform="translate(325.55,156.60) scale(1,1.07)" text-anchor="middle">13</text>
<text class="t" transform="translate(99.50,156.60) scale(1,1.07)" text-anchor="end">(b)</text>
<text class="t" transform="translate(99.80,171.42) scale(1,1.07)" text-anchor="end">Carbendazim</text>
<text class="t" transform="translate(99.80,186.04) scale(1,1.07)" text-anchor="end">Thiamethoxa</text>
<text class="t" transform="translate(99.80,200.66) scale(1,1.07)" text-anchor="end">Atrazine</text>
<text class="t" transform="translate(99.80,215.28) scale(1,1.07)" text-anchor="end">Tricyclazole</text>
<text class="t" transform="translate(99.80,229.90) scale(1,1.07)" text-anchor="end">Propiconazole</text>
<text class="t" transform="translate(99.80,244.52) scale(1,1.07)" text-anchor="end">Azoxystrobin</text>
<text class="t" transform="translate(99.80,259.14) scale(1,1.07)" text-anchor="end">Metolachlor</text>
<text class="t" transform="translate(99.80,273.76) scale(1,1.07)" text-anchor="end">Diniconazole</text>
<text class="t rq" transform="translate(74.90,288.18) scale(1,1.07)">RQ</text>
<text class="t sub" transform="translate(92.70,290.48) scale(1,1.07)">all</text>
<text class="side" transform="translate(11.80,222.50) rotate(-90)" text-anchor="middle">Aquatic invertebrates</text>
<rect x="451.30" y="159.40" width="17.88" height="14.22" fill="#FFFF00"/>
<rect x="469.18" y="159.40" width="17.88" height="14.22" fill="#FFFF00"/>
<rect x="487.06" y="159.40" width="17.88" height="14.22" fill="#FFFF00"/>
<rect x="504.94" y="159.40" width="17.88" height="14.22" fill="#FFFF00"/>
<rect x="522.82" y="159.40" width="17.88" height="14.22" fill="#33CC33"/>
<rect x="540.70" y="159.40" width="17.88" height="14.22" fill="#FFFF00"/>
<rect x="558.58" y="159.40" width="17.88" height="14.22" fill="#FFFF00"/>
<rect x="576.46" y="159.40" width="17.88" height="14.22" fill="#FFC000"/>
<rect x="594.34" y="159.40" width="17.88" height="14.22" fill="#FFC000"/>
<rect x="612.22" y="159.40" width="17.88" height="14.22" fill="#FFC000"/>
<rect x="630.10" y="159.40" width="17.88" height="14.22" fill="#FFFF00"/>
<rect x="647.98" y="159.40" width="17.88" height="14.22" fill="#FFC000"/>
<rect x="665.86" y="159.40" width="17.88" height="14.22" fill="#FFC000"/>
<rect x="451.30" y="173.62" width="17.88" height="14.62" fill="#FFFF00"/>
<rect x="469.18" y="173.62" width="17.88" height="14.62" fill="#FF0000"/>
<rect x="487.06" y="173.62" width="17.88" height="14.62" fill="#FFC000"/>
<rect x="504.94" y="173.62" width="17.88" height="14.62" fill="#FF0000"/>
<rect x="522.82" y="173.62" width="17.88" height="14.62" fill="#FFC000"/>
<rect x="540.70" y="173.62" width="17.88" height="14.62" fill="#FFC000"/>
<rect x="558.58" y="173.62" width="17.88" height="14.62" fill="#FFC000"/>
<rect x="576.46" y="173.62" width="17.88" height="14.62" fill="#FFC000"/>
<rect x="594.34" y="173.62" width="17.88" height="14.62" fill="#FFC000"/>
<rect x="612.22" y="173.62" width="17.88" height="14.62" fill="#FF0000"/>
<rect x="630.10" y="173.62" width="17.88" height="14.62" fill="#FFC000"/>
<rect x="647.98" y="173.62" width="17.88" height="14.62" fill="#FF0000"/>
<rect x="665.86" y="173.62" width="17.88" height="14.62" fill="#FF0000"/>
<rect x="451.30" y="188.24" width="17.88" height="14.62" fill="#FFFF00"/>
<rect x="469.18" y="188.24" width="17.88" height="14.62" fill="#FFC000"/>
<rect x="487.06" y="188.24" width="17.88" height="14.62" fill="#FFC000"/>
<rect x="504.94" y="188.24" width="17.88" height="14.62" fill="#FFC000"/>
<rect x="522.82" y="188.24" width="17.88" height="14.62" fill="#33CC33"/>
<rect x="540.70" y="188.24" width="17.88" height="14.62" fill="#FFFF00"/>
<rect x="558.58" y="188.24" width="17.88" height="14.62" fill="#FFFF00"/>
<rect x="576.46" y="188.24" width="17.88" height="14.62" fill="#FFC000"/>
<rect x="594.34" y="188.24" width="17.88" height="14.62" fill="#FFFF00"/>
<rect x="612.22" y="188.24" width="17.88" height="14.62" fill="#FFFF00"/>
<rect x="630.10" y="188.24" width="17.88" height="14.62" fill="#FFFF00"/>
<rect x="647.98" y="188.24" width="17.88" height="14.62" fill="#33CC33"/>
<rect x="665.86" y="188.24" width="17.88" height="14.62" fill="#FFFF00"/>
<rect x="451.30" y="202.86" width="17.88" height="14.62" fill="#33CC33"/>
<rect x="469.18" y="202.86" width="17.88" height="14.62" fill="#33CC33"/>
<rect x="487.06" y="202.86" width="17.88" height="14.62" fill="#33CC33"/>
<rect x="504.94" y="202.86" width="17.88" height="14.62" fill="#33CC33"/>
<rect x="522.82" y="202.86" width="17.88" height="14.62" fill="#33CC33"/>
<rect x="540.70" y="202.86" width="17.88" height="14.62" fill="#33CC33"/>
<rect x="558.58" y="202.86" width="17.88" height="14.62" fill="#33CC33"/>
<rect x="576.46" y="202.86" width="17.88" height="14.62" fill="#33CC33"/>
<rect x="594.34" y="202.86" width="17.88" height="14.62" fill="#33CC33"/>
<rect x="612.22" y="202.86" width="17.88" height="14.62" fill="#33CC33"/>
<rect x="630.10" y="202.86" width="17.88" height="14.62" fill="#33CC33"/>
<rect x="647.98" y="202.86" width="17.88" height="14.62" fill="#33CC33"/>
<rect x="665.86" y="202.86" width="17.88" height="14.62" fill="#33CC33"/>
<rect x="451.30" y="217.48" width="17.88" height="14.62" fill="#FFC000"/>
<rect x="469.18" y="217.48" width="17.88" height="14.62" fill="#FFC000"/>
<rect x="487.06" y="217.48" width="17.88" height="14.62" fill="#FFFF00"/>
<rect x="504.94" y="217.48" width="17.88" height="14.62" fill="#FFFF00"/>
<rect x="522.82" y="217.48" width="17.88" height="14.62" fill="#FFFF00"/>
<rect x="540.70" y="217.48" width="17.88" height="14.62" fill="#FFFF00"/>
<rect x="558.58" y="217.48" width="17.88" height="14.62" fill="#FFFF00"/>
<rect x="576.46" y="217.48" width="17.88" height="14.62" fill="#FFC000"/>
<rect x="594.34" y="217.48" width="17.88" height="14.62" fill="#FFC000"/>
<rect x="612.22" y="217.48" width="17.88" height="14.62" fill="#FFFF00"/>
<rect x="630.10" y="217.48" width="17.88" height="14.62" fill="#FFFF00"/>
<rect x="647.98" y="217.48" width="17.88" height="14.62" fill="#FF0000"/>
<rect x="665.86" y="217.48" width="17.88" height="14.62" fill="#FFFF00"/>
<rect x="451.30" y="232.10" width="17.88" height="14.62" fill="#33CC33"/>
<rect x="469.18" y="232.10" width="17.88" height="14.62" fill="#33CC33"/>
<rect x="487.06" y="232.10" width="17.88" height="14.62" fill="#33CC33"/>
<rect x="504.94" y="232.10" width="17.88" height="14.62" fill="#33CC33"/>
<rect x="522.82" y="232.10" width="17.88" height="14.62" fill="#33CC33"/>
<rect x="540.70" y="232.10" width="17.88" height="14.62" fill="#33CC33"/>
<rect x="558.58" y="232.10" width="17.88" height="14.62" fill="#33CC33"/>
<rect x="576.46" y="232.10" width="17.88" height="14.62" fill="#33CC33"/>
<rect x="594.34" y="232.10" width="17.88" height="14.62" fill="#33CC33"/>
<rect x="612.22" y="232.10" width="17.88" height="14.62" fill="#33CC33"/>
<rect x="630.10" y="232.10" width="17.88" height="14.62" fill="#33CC33"/>
<rect x="647.98" y="232.10" width="17.88" height="14.62" fill="#33CC33"/>
<rect x="665.86" y="232.10" width="17.88" height="14.62" fill="#33CC33"/>
<rect x="451.30" y="246.72" width="17.88" height="14.62" fill="#33CC33"/>
<rect x="469.18" y="246.72" width="17.88" height="14.62" fill="#33CC33"/>
<rect x="487.06" y="246.72" width="17.88" height="14.62" fill="#33CC33"/>
<rect x="504.94" y="246.72" width="17.88" height="14.62" fill="#33CC33"/>
<rect x="522.82" y="246.72" width="17.88" height="14.62" fill="#33CC33"/>
<rect x="540.70" y="246.72" width="17.88" height="14.62" fill="#33CC33"/>
<rect x="558.58" y="246.72" width="17.88" height="14.62" fill="#33CC33"/>
<rect x="576.46" y="246.72" width="17.88" height="14.62" fill="#33CC33"/>
<rect x="594.34" y="246.72" width="17.88" height="14.62" fill="#33CC33"/>
<rect x="612.22" y="246.72" width="17.88" height="14.62" fill="#33CC33"/>
<rect x="630.10" y="246.72" width="17.88" height="14.62" fill="#33CC33"/>
<rect x="647.98" y="246.72" width="17.88" height="14.62" fill="#33CC33"/>
<rect x="665.86" y="246.72" width="17.88" height="14.62" fill="#33CC33"/>
<rect x="451.30" y="261.34" width="17.88" height="14.62" fill="#FFFFFF"/>
<rect x="469.18" y="261.34" width="17.88" height="14.62" fill="#FFFFFF"/>
<rect x="487.06" y="261.34" width="17.88" height="14.62" fill="#FFFFFF"/>
<rect x="504.94" y="261.34" width="17.88" height="14.62" fill="#FFFFFF"/>
<rect x="522.82" y="261.34" width="17.88" height="14.62" fill="#FFFFFF"/>
<rect x="540.70" y="261.34" width="17.88" height="14.62" fill="#FFFFFF"/>
<rect x="558.58" y="261.34" width="17.88" height="14.62" fill="#FFFFFF"/>
<rect x="576.46" y="261.34" width="17.88" height="14.62" fill="#FFFFFF"/>
<rect x="594.34" y="261.34" width="17.88" height="14.62" fill="#FFFFFF"/>
<rect x="612.22" y="261.34" width="17.88" height="14.62" fill="#FFFFFF"/>
<rect x="630.10" y="261.34" width="17.88" height="14.62" fill="#FFFFFF"/>
<rect x="647.98" y="261.34" width="17.88" height="14.62" fill="#FFFFFF"/>
<rect x="665.86" y="261.34" width="17.88" height="14.62" fill="#FFFFFF"/>
<rect x="451.30" y="275.96" width="17.88" height="14.62" fill="#FF0000"/>
<rect x="469.18" y="275.96" width="17.88" height="14.62" fill="#FF0000"/>
<rect x="487.06" y="275.96" width="17.88" height="14.62" fill="#FFC000"/>
<rect x="504.94" y="275.96" width="17.88" height="14.62" fill="#FF0000"/>
<rect x="522.82" y="275.96" width="17.88" height="14.62" fill="#FFC000"/>
<rect x="540.70" y="275.96" width="17.88" height="14.62" fill="#FFC000"/>
<rect x="558.58" y="275.96" width="17.88" height="14.62" fill="#FF0000"/>
<rect x="576.46" y="275.96" width="17.88" height="14.62" fill="#FF0000"/>
<rect x="594.34" y="275.96" width="17.88" height="14.62" fill="#FFC000"/>
<rect x="612.22" y="275.96" width="17.88" height="14.62" fill="#FF0000"/>
<rect x="630.10" y="275.96" width="17.88" height="14.62" fill="#FFC000"/>
<rect x="647.98" y="275.96" width="17.88" height="14.62" fill="#FF0000"/>
<rect x="665.86" y="275.96" width="17.88" height="14.62" fill="#FF0000"/>
<line class="in" x1="469.38" y1="159.40" x2="469.38" y2="290.58"/>
<line class="in" x1="487.26" y1="159.40" x2="487.26" y2="290.58"/>
<line class="in" x1="505.14" y1="159.40" x2="505.14" y2="290.58"/>
<line class="in" x1="523.02" y1="159.40" x2="523.02" y2="290.58"/>
<line class="in" x1="540.90" y1="159.40" x2="540.90" y2="290.58"/>
<line class="in" x1="558.78" y1="159.40" x2="558.78" y2="290.58"/>
<line class="in" x1="576.66" y1="159.40" x2="576.66" y2="290.58"/>
<line class="in" x1="594.54" y1="159.40" x2="594.54" y2="290.58"/>
<line class="in" x1="612.42" y1="159.40" x2="612.42" y2="290.58"/>
<line class="in" x1="630.30" y1="159.40" x2="630.30" y2="290.58"/>
<line class="in" x1="648.18" y1="159.40" x2="648.18" y2="290.58"/>
<line class="in" x1="666.06" y1="159.40" x2="666.06" y2="290.58"/>
<line class="inh" x1="451.30" y1="173.92" x2="683.74" y2="173.92"/>
<line class="inh" x1="451.30" y1="188.54" x2="683.74" y2="188.54"/>
<line class="inh" x1="451.30" y1="203.16" x2="683.74" y2="203.16"/>
<line class="inh" x1="451.30" y1="217.78" x2="683.74" y2="217.78"/>
<line class="inh" x1="451.30" y1="232.40" x2="683.74" y2="232.40"/>
<line class="inh" x1="451.30" y1="247.02" x2="683.74" y2="247.02"/>
<line class="inh" x1="451.30" y1="261.64" x2="683.74" y2="261.64"/>
<line class="inh" x1="451.30" y1="276.26" x2="683.74" y2="276.26"/>
<line class="ob" x1="451.30" y1="159.00" x2="451.30" y2="290.58"/>
<line class="ob" x1="683.74" y1="159.00" x2="683.74" y2="291.08"/>
<line class="ob" x1="450.80" y1="290.58" x2="683.74" y2="290.58"/>
<line class="obt" x1="451.30" y1="159.50" x2="683.74" y2="159.50"/>
<text class="t" transform="translate(460.24,156.60) scale(1,1.07)" text-anchor="middle">1</text>
<text class="t" transform="translate(478.12,156.60) scale(1,1.07)" text-anchor="middle">2</text>
<text class="t" transform="translate(496.00,156.60) scale(1,1.07)" text-anchor="middle">3</text>
<text class="t" transform="translate(513.88,156.60) scale(1,1.07)" text-anchor="middle">4</text>
<text class="t" transform="translate(531.76,156.60) scale(1,1.07)" text-anchor="middle">5</text>
<text class="t" transform="translate(549.64,156.60) scale(1,1.07)" text-anchor="middle">6</text>
<text class="t" transform="translate(567.52,156.60) scale(1,1.07)" text-anchor="middle">7</text>
<text class="t" transform="translate(585.40,156.60) scale(1,1.07)" text-anchor="middle">8</text>
<text class="t" transform="translate(603.28,156.60) scale(1,1.07)" text-anchor="middle">9</text>
<text class="t" transform="translate(621.16,156.60) scale(1,1.07)" text-anchor="middle">10</text>
<text class="t" transform="translate(639.04,156.60) scale(1,1.07)" text-anchor="middle">11</text>
<text class="t" transform="translate(656.92,156.60) scale(1,1.07)" text-anchor="middle">12</text>
<text class="t" transform="translate(674.80,156.60) scale(1,1.07)" text-anchor="middle">13</text>
<text class="t" transform="translate(449.50,156.60) scale(1,1.07)" text-anchor="end">(d)</text>
<text class="t" transform="translate(449.80,171.42) scale(1,1.07)" text-anchor="end">Carbendazim</text>
<text class="t" transform="translate(449.80,186.04) scale(1,1.07)" text-anchor="end">Thiamethoxa</text>
<text class="t" transform="translate(449.80,200.66) scale(1,1.07)" text-anchor="end">Atrazine</text>
<text class="t" transform="translate(449.80,215.28) scale(1,1.07)" text-anchor="end">Tricyclazole</text>
<text class="t" transform="translate(449.80,229.90) scale(1,1.07)" text-anchor="end">Propiconazole</text>
<text class="t" transform="translate(449.80,244.52) scale(1,1.07)" text-anchor="end">Azoxystrobin</text>
<text class="t" transform="translate(449.80,259.14) scale(1,1.07)" text-anchor="end">Metolachlor</text>
<text class="t" transform="translate(449.80,273.76) scale(1,1.07)" text-anchor="end">Diniconazole</text>
<text class="t rq" transform="translate(424.90,288.18) scale(1,1.07)">RQ</text>
<text class="t sub" transform="translate(442.70,290.48) scale(1,1.07)">all</text>
<text class="side" transform="translate(361.50,224.20) rotate(-90)" text-anchor="middle">Earthworms</text>
<rect x="101.30" y="299.7" width="18.5" height="17" fill="#33CC33"/>
<text class="t leg" transform="translate(121.20,313.2) scale(1,1.05)">RQ</text>
<polyline points="150.8,304.3 141.0,308.6 150.8,312.9" fill="none" stroke="#111" stroke-width="0.9"/>
<text class="t leg" transform="translate(152.2,313.2) scale(1,1.05)">0.01</text>
<rect x="208.80" y="299.7" width="18.5" height="17" fill="#FFFF00"/>
<text class="t leg" transform="translate(228.30,313.2) scale(1,1.05)">Low risk</text>
<rect x="316.10" y="299.7" width="18.5" height="17" fill="#FFC000"/>
<text class="t leg" transform="translate(335.50,313.2) scale(1,1.05)">Moderate risk</text>
<rect x="433.30" y="299.7" width="18.5" height="17" fill="#FF0000"/>
<text class="t leg" transform="translate(452.50,313.2) scale(1,1.05)">High risk</text>
<rect x="541.00" y="300.2" width="17.6" height="16.2" fill="#fff" stroke="#666" stroke-width="1"/>
<text class="t leg" transform="translate(560.60,313.2) scale(1,1.05)">No data</text>
</svg>
</body></html>
